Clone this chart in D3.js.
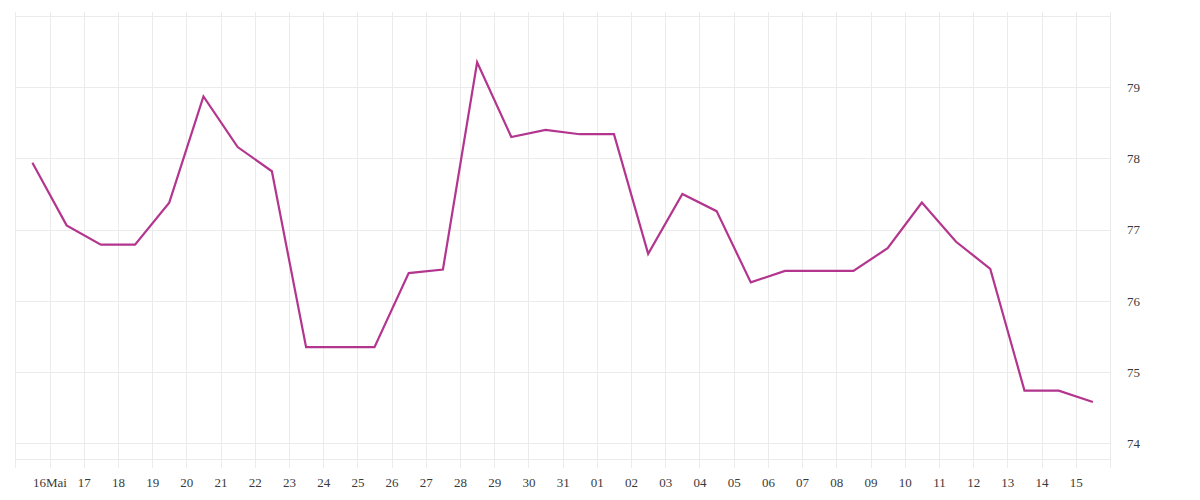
<!DOCTYPE html>
<html>
<head>
<meta charset="utf-8">
<script src="https://cdn.jsdelivr.net/npm/d3@7"></script>
<style>
html,body{margin:0;padding:0;background:#fff;}
svg{display:block;}
</style>
</head>
<body>
<svg id="chart" width="1200" height="500"></svg>
<script>
const dates = ["2019-05-15","2019-05-16","2019-05-17","2019-05-18","2019-05-19","2019-05-20","2019-05-21","2019-05-22","2019-05-23","2019-05-24","2019-05-25","2019-05-26","2019-05-27","2019-05-28","2019-05-29","2019-05-30","2019-05-31","2019-06-01","2019-06-02","2019-06-03","2019-06-04","2019-06-05","2019-06-06","2019-06-07","2019-06-08","2019-06-09","2019-06-10","2019-06-11","2019-06-12","2019-06-13","2019-06-14","2019-06-15"];
const values = [77.94,77.06,76.79,76.79,77.38,78.87,78.16,77.82,75.35,75.35,75.35,76.39,76.44,79.35,78.30,78.40,78.34,78.34,76.66,77.50,77.26,76.26,76.42,76.42,76.42,76.74,77.38,76.83,76.45,74.74,74.74,74.58];
const xTickDates = ["2019-05-16","2019-05-17","2019-05-18","2019-05-19","2019-05-20","2019-05-21","2019-05-22","2019-05-23","2019-05-24","2019-05-25","2019-05-26","2019-05-27","2019-05-28","2019-05-29","2019-05-30","2019-05-31","2019-06-01","2019-06-02","2019-06-03","2019-06-04","2019-06-05","2019-06-06","2019-06-07","2019-06-08","2019-06-09","2019-06-10","2019-06-11","2019-06-12","2019-06-13","2019-06-14","2019-06-15"];
const xTickLabels = ["16Mai","17","18","19","20","21","22","23","24","25","26","27","28","29","30","31","01","02","03","04","05","06","07","08","09","10","11","12","13","14","15"];
const yGridValues = [74,75,76,77,78,79,80];
const yTickValues = [74,75,76,77,78,79];
const yTickLabels = ["74","75","76","77","78","79"];
const xDomain = ["2019-05-15","2019-06-16"];
const yDomain = [73.784, 80];

const FONT = "'Liberation Serif', 'DejaVu Serif', serif";
const parse = d3.utcParse("%Y-%m-%d");
const svg = d3.select("#chart");
const plotLeft = 15.3, plotRight = 1110, plotTop = 16, plotBottom = 458.7;
const HOUR = 3600*1000;

const x = d3.scaleUtc().domain(xDomain.map(parse)).range([plotLeft, plotRight]);
const y = d3.scaleLinear().domain(yDomain).range([plotBottom, plotTop]);

const grid = svg.append("g").attr("stroke", "#ebebeb").attr("stroke-width", 1).attr("shape-rendering", "crispEdges");

grid.selectAll("line.h").data(yGridValues).join("line")
  .attr("x1", plotLeft).attr("x2", plotRight)
  .attr("y1", d => Math.round(y(d)) + 0.5).attr("y2", d => Math.round(y(d)) + 0.5);
grid.append("line").attr("x1", plotLeft).attr("x2", plotRight)
  .attr("y1", Math.round(plotBottom)+0.5).attr("y2", Math.round(plotBottom)+0.5);

const vDates = [xDomain[0]].concat(xTickDates, [xDomain[1]]).map(parse);
grid.selectAll("line.v").data(vDates).join("line")
  .attr("x1", d => Math.round(x(d)) + 0.5).attr("x2", d => Math.round(x(d)) + 0.5)
  .attr("y1", 12).attr("y2", 468);

const xAxis = d3.axisBottom(x)
  .tickValues(xTickDates.map(parse))
  .tickFormat((d, i) => xTickLabels[i])
  .tickSize(0).tickPadding(0);
const gx = svg.append("g").attr("transform", "translate(0,477.5)").call(xAxis)
  .attr("font-family", FONT).attr("font-size", 13);
gx.select(".domain").remove();
gx.selectAll("text").attr("fill", "#3a3a3a").style("font-family", FONT).style("font-size", "13px");

const yAxis = d3.axisRight(y)
  .tickValues(yTickValues)
  .tickFormat((d, i) => yTickLabels[i])
  .tickSize(0).tickPadding(0);
const gy = svg.append("g").attr("transform", "translate(1127,0)").call(yAxis)
  .attr("font-family", FONT).attr("font-size", 13);
gy.select(".domain").remove();
gy.selectAll("text").attr("fill", "#3a3a3a").style("font-family", FONT).style("font-size", "13px");

const pts = dates.map((d, i) => ({date: new Date(parse(d).getTime() + 12*HOUR), v: values[i]}));
const line = d3.line().x(d => x(d.date)).y(d => y(d.v));
svg.append("path").datum(pts)
  .attr("fill", "none")
  .attr("stroke", "#b3358e")
  .attr("stroke-width", 2.2)
  .attr("stroke-linejoin", "miter")
  .attr("d", line);
</script>
</body>
</html>
